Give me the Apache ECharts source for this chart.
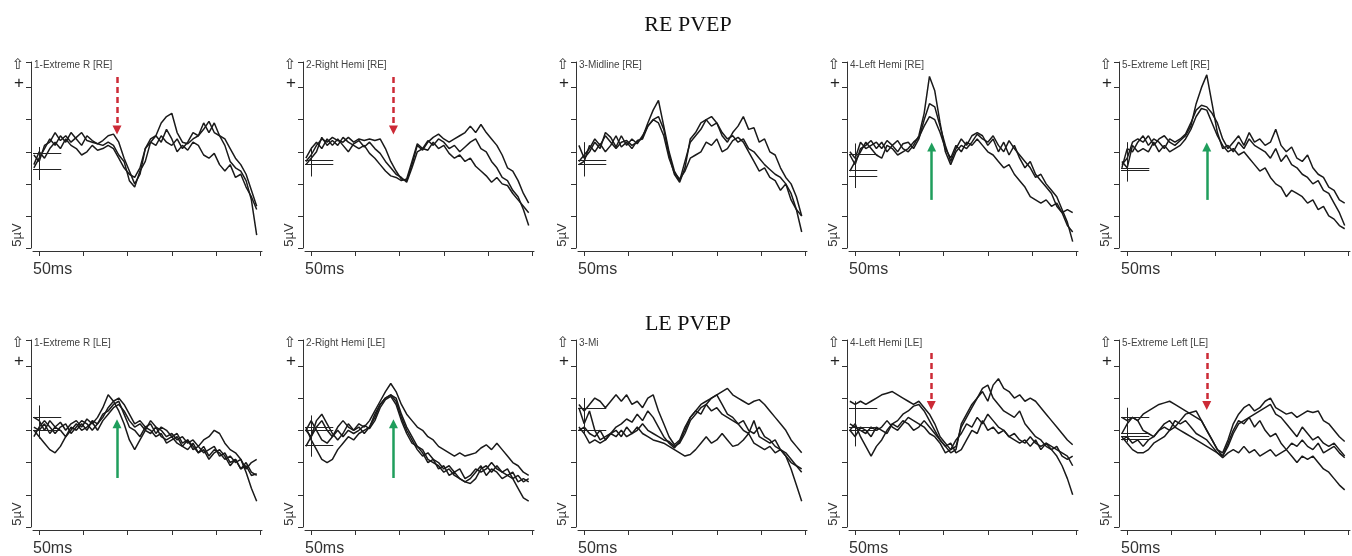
<!DOCTYPE html>
<html><head><meta charset="utf-8">
<script src="https://cdn.jsdelivr.net/npm/echarts@6/dist/echarts.min.js"></script>
<style>html,body{margin:0;padding:0;background:#fff}#c{width:1352px;height:556px}</style>
</head><body><div id="c"></div><script>
// ---- data (trace values in 5 µV divisions, times in ms) ----
const timesMs = [44,50,56,62,68,74,80,86,92,98,104,110,116,122,128,134,140,146,152,158,164,170,176,182,188,194,200,206,212,218,224,230,236,242,248,254,260,266,272,278,284,290,296];
const rowTitles = ['RE PVEP', 'LE PVEP'];
const panelTitles = ['1-Extreme R [RE]','2-Right Hemi [RE]','3-Midline [RE]','4-Left Hemi [RE]','5-Extreme Left [RE]',
                     '1-Extreme R [LE]','2-Right Hemi [LE]','3-Mi','4-Left Hemi [LE]','5-Extreme Left [LE]'];
const xTickValues = [50,100,150,200,250,300];
const yTickValues = [-3,-2,-1,0,1,2,2.8];
const xScaleLabel = '50ms';
const yScaleLabel = '5µV';

const RE1 = [
 [-0.1,-0.3,0.2,0.3,0.6,0.35,0.5,0.3,0.45,0.6,0.35,0.3,0.25,0.35,0.5,0.55,0.3,-0.2,-0.6,-1.0,-0.7,0.1,0.4,0.5,0.9,1.1,1.2,0.6,0.3,0.25,0.4,0.5,0.9,0.6,0.9,0.5,0.4,0.1,-0.2,-0.4,-0.7,-1.2,-1.7],
 [-0.5,-0.2,0.1,0.4,0.2,0.5,0.3,0.6,0.4,0.2,0.5,0.35,0.25,0.2,0.3,0.2,-0.1,-0.3,-0.9,-1.1,-0.6,-0.3,0.3,0.2,0.5,0.3,0.2,0.4,0.1,0.3,0.6,0.5,0.7,0.95,0.6,0.5,0.2,-0.3,-0.5,-0.6,-0.9,-1.5,-2.6],
 [-0.4,0.0,-0.2,0.1,0.3,0.1,0.4,0.2,0.1,-0.1,0.0,0.2,0.05,0.1,0.2,0.1,-0.2,-0.5,-0.7,-0.8,-0.5,0.1,0.3,0.5,0.3,0.7,0.4,0.0,0.2,0.05,0.3,0.2,-0.1,-0.2,-0.05,-0.4,-0.6,-0.4,-0.8,-0.7,-1.1,-1.4,-1.8]
];
const RE2 = [
 [-0.3,-0.1,0.2,0.4,0.3,0.45,0.35,0.3,0.45,0.3,0.4,0.35,0.4,0.35,0.4,0.1,-0.3,-0.6,-0.85,-0.9,-0.4,0.2,0.05,0.3,0.45,0.55,0.4,0.3,0.4,0.5,0.6,0.8,0.6,0.85,0.6,0.4,0.2,-0.1,-0.5,-0.6,-0.9,-1.3,-1.6],
 [-0.4,-0.2,0.0,0.45,0.2,0.35,0.2,0.45,0.3,0.2,0.1,0.2,-0.05,-0.2,-0.4,-0.6,-0.75,-0.8,-0.9,-0.85,-0.3,0.25,0.1,0.35,0.2,0.4,0.3,0.1,0.2,0.0,0.15,0.3,0.4,0.1,0.0,-0.3,-0.5,-0.8,-0.9,-1.2,-1.4,-1.8,-2.3],
 [-0.2,0.1,0.3,0.1,0.4,0.2,0.4,0.2,0.0,0.25,0.35,0.15,0.3,0.1,-0.05,-0.3,-0.5,-0.7,-0.8,-0.95,-0.5,0.0,0.1,0.05,0.3,0.1,0.2,-0.05,-0.2,-0.1,-0.3,-0.2,-0.45,-0.6,-0.75,-0.95,-0.8,-1.0,-1.05,-1.3,-1.5,-1.7,-1.9]
];
const RE3 = [
 [-0.3,-0.1,0.1,0.4,0.2,0.5,0.3,0.1,0.3,0.35,0.2,0.3,0.45,0.9,1.3,1.6,0.8,0.0,-0.6,-0.9,-0.3,0.3,0.5,0.7,1.0,1.1,0.9,0.6,0.4,0.5,0.3,0.4,0.1,0.0,-0.2,-0.4,-0.55,-0.7,-0.8,-1.0,-1.3,-1.8,-2.5],
 [0.2,-0.2,0.0,0.3,0.1,0.6,0.45,0.15,0.5,0.2,0.4,0.25,0.5,0.8,1.0,1.1,0.7,-0.1,-0.7,-0.95,-0.5,0.4,0.6,0.9,1.0,0.8,0.9,0.5,0.3,0.6,0.8,1.1,0.7,0.75,0.3,0.4,0.0,-0.1,-0.5,-0.8,-1.0,-1.4,-2.0],
 [-0.4,-0.3,0.2,0.0,0.25,0.0,0.2,0.5,0.15,0.3,0.1,0.35,0.4,0.8,1.0,0.9,0.5,-0.2,-0.65,-0.85,-0.6,-0.2,-0.1,0.0,0.3,0.2,0.4,0.0,0.1,0.35,0.45,0.3,0.0,-0.3,-0.6,-0.5,-0.8,-0.9,-1.2,-1.0,-1.5,-1.8,-2.0]
];
const RE4 = [
 [-0.1,-0.4,0.1,0.2,0.35,0.1,0.3,0.0,0.2,0.35,0.1,0.0,0.2,0.5,1.2,2.35,1.9,0.9,0.0,-0.4,0.0,0.2,0.1,0.3,0.55,0.4,0.3,0.5,0.2,0.0,0.35,0.1,-0.1,-0.3,-0.5,-0.8,-0.7,-1.0,-1.2,-1.4,-1.8,-2.2,-2.8],
 [0.0,-0.2,0.3,0.1,0.2,0.3,0.1,0.35,0.2,0.0,0.25,0.3,0.1,0.4,1.0,1.5,1.4,0.8,0.2,-0.3,0.1,0.4,0.2,0.5,0.6,0.5,0.2,0.4,0.0,0.3,-0.1,0.2,-0.2,-0.5,-0.3,-0.7,-0.9,-1.1,-1.3,-1.7,-1.9,-2.3,-2.5],
 [-0.6,-0.3,0.0,0.3,0.1,-0.1,-0.2,0.2,0.1,-0.1,0.0,0.1,0.3,0.45,0.8,1.1,1.0,0.6,0.1,-0.2,0.2,0.0,0.3,0.2,0.4,0.2,0.0,-0.1,-0.3,-0.5,-0.4,-0.7,-0.9,-1.1,-1.4,-1.5,-1.6,-1.5,-1.7,-1.6,-1.9,-1.8,-1.9]
];
const RE5 = [
 [-0.4,-0.2,0.3,0.4,0.3,0.5,0.2,0.4,0.5,0.3,0.2,0.35,0.5,0.8,1.5,2.0,2.4,1.5,0.6,0.1,0.2,0.0,0.3,0.1,0.4,0.2,0.1,0.0,-0.2,0.1,-0.3,-0.1,-0.4,-0.5,-0.7,-0.8,-1.0,-0.9,-1.2,-1.3,-1.6,-1.9,-2.3],
 [-0.5,0.1,0.0,0.3,0.5,0.2,0.4,0.3,0.1,0.4,0.3,0.4,0.55,0.9,1.3,1.45,1.4,1.2,0.9,0.4,0.1,0.3,0.5,0.2,0.6,0.3,0.4,0.2,0.3,0.7,0.2,0.0,0.15,-0.2,-0.3,-0.1,-0.5,-0.7,-0.8,-1.1,-1.2,-1.5,-1.6],
 [-0.3,-0.5,0.2,0.0,0.1,0.0,0.3,0.0,0.2,0.0,0.1,0.2,0.4,0.7,1.1,1.35,1.3,0.9,0.5,0.2,0.0,0.1,-0.1,0.0,-0.2,-0.4,-0.6,-0.5,-0.8,-1.0,-1.1,-1.4,-1.2,-1.3,-1.4,-1.6,-1.5,-1.8,-1.7,-2.0,-2.1,-2.3,-2.4]
];
const LE1 = [
 [0.4,0.3,0.0,0.3,0.1,0.25,0.0,0.2,0.3,0.1,0.35,0.2,0.4,0.7,1.1,0.9,0.6,0.2,-0.3,-0.6,-0.3,0.0,0.3,0.1,0.0,-0.2,-0.1,-0.3,-0.2,-0.4,-0.3,-0.5,-0.3,-0.2,0.0,-0.1,-0.4,-0.6,-0.7,-0.9,-1.3,-1.8,-2.2],
 [0.0,-0.2,-0.4,-0.6,-0.7,-0.5,-0.2,0.1,0.0,0.2,0.0,0.3,0.2,0.4,0.7,0.9,1.0,0.8,0.5,0.2,0.3,0.1,0.2,-0.1,0.1,0.0,-0.2,-0.1,-0.4,-0.3,-0.6,-0.5,-0.7,-0.6,-0.5,-0.8,-0.7,-1.0,-0.9,-1.2,-1.1,-1.4,-1.35],
 [0.1,0.0,0.2,-0.1,0.1,0.0,-0.2,0.0,0.2,0.0,0.1,0.25,0.0,0.3,0.5,0.7,0.8,0.6,0.3,0.1,0.2,0.0,-0.1,0.1,-0.2,-0.3,-0.2,-0.4,-0.5,-0.3,-0.5,-0.7,-0.5,-0.8,-0.6,-0.7,-0.9,-0.8,-1.0,-0.9,-1.2,-1.0,-0.9],
 [-0.2,0.1,0.3,0.1,-0.1,0.1,0.2,-0.1,0.1,0.3,0.2,0.0,0.2,0.5,0.6,0.8,0.9,0.5,0.1,0.0,-0.2,0.1,0.0,-0.2,-0.1,-0.4,-0.3,-0.2,-0.5,-0.6,-0.4,-0.7,-0.6,-0.9,-0.7,-0.6,-0.8,-1.1,-0.9,-1.2,-1.0,-1.3,-1.4]
];
const LE2 = [
 [0.0,-0.2,0.1,0.3,0.0,-0.2,0.1,0.3,0.1,0.0,0.2,0.1,0.3,0.6,0.9,1.2,1.45,1.2,0.8,0.5,0.3,0.1,0.0,-0.2,-0.3,-0.5,-0.6,-0.7,-0.8,-0.7,-0.8,-0.75,-0.7,-0.55,-0.45,-0.6,-0.4,-0.6,-0.8,-1.0,-1.1,-1.3,-1.4],
 [-0.5,-0.2,0.3,0.5,0.2,-0.1,-0.3,-0.1,0.2,0.0,0.1,-0.1,0.1,0.4,0.8,1.0,1.1,1.0,0.5,0.1,-0.2,-0.5,-0.6,-0.9,-1.0,-1.1,-1.3,-1.2,-1.4,-1.5,-1.6,-1.65,-1.5,-1.2,-1.1,-1.3,-1.1,-1.3,-1.4,-1.5,-1.8,-2.1,-2.2],
 [0.1,-0.3,-0.6,-0.9,-1.0,-0.9,-0.6,-0.4,-0.2,-0.3,-0.1,0.0,0.1,0.5,0.8,1.0,1.1,0.9,0.4,0.0,-0.3,-0.6,-0.8,-0.7,-0.9,-1.2,-1.1,-1.4,-1.3,-1.5,-1.6,-1.5,-1.3,-1.1,-1.4,-1.2,-1.3,-1.5,-1.4,-1.3,-1.6,-1.5,-1.6],
 [0.0,0.3,0.0,-0.3,-0.4,-0.2,0.0,-0.2,0.0,-0.1,0.0,0.15,0.05,0.3,0.7,0.95,1.05,0.8,0.3,-0.1,-0.4,-0.5,-0.7,-1.0,-0.9,-1.0,-1.2,-1.1,-1.3,-1.2,-1.5,-1.4,-1.2,-1.3,-1.2,-1.0,-1.2,-1.3,-1.2,-1.5,-1.4,-1.6,-1.5]
];
const LE3 = [
 [0.8,0.6,0.8,1.0,0.9,0.7,0.9,1.1,0.9,1.1,0.8,0.9,0.7,1.0,1.1,0.6,0.2,-0.2,-0.45,-0.3,0.1,0.4,0.6,0.8,0.9,1.0,1.1,1.2,1.3,1.1,1.0,0.9,0.8,0.9,0.95,0.8,0.6,0.4,0.2,0.0,-0.3,-0.5,-0.7],
 [0.7,0.2,0.6,0.0,-0.3,-0.2,-0.1,0.1,0.2,0.35,0.25,0.5,0.3,0.6,0.4,0.1,-0.2,-0.4,-0.55,-0.35,0.0,0.4,0.6,0.5,0.8,1.0,1.1,0.8,0.5,0.4,0.2,0.3,0.0,-0.1,0.1,-0.2,-0.3,-0.5,-0.6,-0.7,-0.9,-1.1,-1.3],
 [0.0,0.1,-0.1,-0.2,0.0,-0.3,-0.1,0.0,-0.2,0.1,-0.1,0.0,0.2,0.0,-0.1,-0.2,-0.3,-0.35,-0.5,-0.4,-0.1,0.3,0.5,0.7,0.8,0.6,0.7,0.5,0.4,0.3,0.2,0.0,-0.1,0.3,-0.2,-0.3,-0.4,-0.3,-0.6,-0.8,-1.2,-1.7,-2.2],
 [0.1,-0.1,-0.4,-0.3,-0.4,-0.3,-0.1,-0.2,0.0,-0.2,-0.1,0.1,-0.1,-0.2,-0.3,-0.35,-0.4,-0.5,-0.6,-0.7,-0.8,-0.75,-0.6,-0.4,-0.2,-0.4,-0.3,-0.1,-0.3,-0.5,-0.45,-0.3,-0.1,-0.4,-0.5,-0.6,-0.5,-0.7,-0.6,-0.8,-1.0,-1.1,-1.2]
];
const LE4 = [
 [0.9,0.8,0.9,0.8,0.9,1.0,1.1,1.15,1.2,1.1,1.0,0.9,0.8,0.9,0.7,0.5,0.2,-0.2,-0.4,-0.6,-0.5,0.1,0.4,0.7,1.0,1.2,0.9,1.4,1.6,1.3,1.2,1.0,1.1,0.9,1.0,0.9,0.7,0.5,0.3,0.1,-0.1,-0.3,-0.45],
 [0.0,0.2,-0.2,-0.5,-0.8,-0.5,-0.3,0.0,0.2,0.3,0.5,0.6,0.75,0.8,0.6,0.3,0.0,-0.3,-0.5,-0.7,-0.6,0.2,0.5,0.8,1.0,1.3,1.4,1.0,0.8,0.6,0.5,0.4,0.6,0.2,0.0,-0.2,-0.3,-0.5,-0.6,-0.8,-1.1,-1.5,-2.0],
 [0.2,0.1,0.0,-0.1,0.1,0.0,0.1,0.3,0.1,0.0,0.2,0.4,0.3,0.2,0.1,-0.1,-0.2,-0.4,-0.7,-0.6,-0.3,-0.1,0.2,0.1,0.4,0.2,0.5,0.3,0.1,0.0,-0.2,-0.1,-0.3,-0.4,-0.2,-0.4,-0.5,-0.4,-0.5,-0.6,-0.7,-0.8,-1.1],
 [0.0,-0.2,0.1,0.0,-0.2,0.1,0.0,-0.1,0.2,0.1,0.3,0.2,0.0,0.1,0.3,0.1,-0.1,-0.3,-0.5,-0.4,-0.7,-0.6,-0.3,0.0,-0.1,0.3,0.0,0.1,-0.1,0.0,-0.2,-0.3,-0.4,-0.3,-0.5,-0.3,-0.6,-0.4,-0.6,-0.5,-0.8,-0.9,-0.8]
];
const LE5 = [
 [0.4,0.3,0.4,0.3,0.5,0.6,0.7,0.8,0.85,0.9,0.8,0.7,0.6,0.5,0.4,0.3,0.0,-0.3,-0.6,-0.7,-0.3,0.2,0.5,0.7,0.8,0.6,0.7,0.9,1.0,0.7,0.6,0.5,0.55,0.4,0.5,0.6,0.55,0.6,0.3,0.2,0.0,-0.2,-0.35],
 [-0.1,0.2,0.4,0.3,0.0,-0.1,-0.2,0.0,0.2,0.3,0.1,0.3,0.5,0.55,0.6,0.3,0.0,-0.3,-0.6,-0.8,-0.5,-0.1,0.2,0.3,0.4,0.5,0.6,0.7,0.8,0.5,0.4,0.2,0.0,-0.2,0.1,-0.1,-0.3,-0.2,-0.4,-0.5,-0.4,-0.6,-0.8],
 [-0.3,-0.2,-0.4,-0.3,-0.5,-0.3,-0.2,0.0,0.1,0.0,0.3,0.2,0.3,0.1,-0.1,-0.2,-0.3,-0.5,-0.7,-0.8,-0.4,0.0,0.3,0.2,0.4,0.1,0.3,0.0,-0.2,-0.1,-0.4,-0.6,-0.8,-1.0,-0.8,-0.9,-0.8,-1.0,-1.2,-1.3,-1.5,-1.7,-1.85],
 [-0.2,-0.4,-0.6,-0.7,-0.7,-0.6,-0.4,-0.3,-0.2,0.0,0.1,0.0,-0.1,-0.2,-0.3,-0.4,-0.5,-0.6,-0.7,-0.85,-0.7,-0.6,-0.7,-0.5,-0.7,-0.6,-0.8,-0.7,-0.6,-0.8,-0.7,-0.6,-0.4,-0.5,-0.3,-0.5,-0.6,-0.4,-0.7,-0.6,-0.5,-0.7,-0.85]
];
const panels = [RE1, RE2, RE3, RE4, RE5, LE1, LE2, LE3, LE4, LE5];

// baseline cursor marks (levels in divisions)
const cursorLevels = [[-0.05,-0.54],[-0.26,-0.38],[-0.26,-0.38],[-0.07,-0.57,-0.75],[-0.52,-0.59],
                      [0.41,0],[0.1,0,-0.46],[0.69,0],[0.69,0.08,0],[0.4,-0.1,-0.2,-0.29]];
const cursorSpan = [[0.15,-0.88],[0.15,-0.77],[0.3,-0.77],[0.26,-1.13],[0.3,-0.93],
                    [0.77,-0.26],[0.46,-0.82],[1.0,-0.1],[0.9,-0.5],[0.7,-0.36]];
const cursorFromMs = 43, cursorToMs = 75, cursorAtMs = 50;

// annotation arrows
const arrowPanel = [0, 1, 3, 4, 5, 6, 8, 9];
const arrowMs    = [138, 143, 136.5, 140, 138, 143, 136, 140];
const arrowFrom  = [2.33, 2.33, -1.5, -1.5, -1.48, -1.48, 2.4, 2.4];
const arrowTo    = [0.68, 0.68, 0.15, 0.15, 0.2, 0.2, 0.77, 0.77];
const arrowKind  = ['absent','absent','present','present','present','present','absent','absent'];

// ---- layout ----
const colLeft = [33, 305, 578, 849, 1121];
const gridW = 229;
const rowTop = [62, 340];
const rowH = [186, 187];
const axisColor = '#333';
const traceColor = '#1a1a1a';
const redColor = '#cc2a36';
const greenColor = '#1f9e5c';

const grids = [], xAxes = [], yAxes = [], series = [], graphics = [];

panels.forEach((traces, p) => {
  const r = Math.floor(p / 5), c = p % 5;
  grids.push({left: colLeft[c], top: rowTop[r], width: gridW, height: rowH[r]});
  xAxes.push({gridIndex: p, type: 'value', min: 43, max: 302, offset: 3,
    axisLine: {show: true, onZero: false, lineStyle: {color: axisColor, width: 1}},
    axisTick: {show: true, customValues: xTickValues, length: 5, lineStyle: {color: axisColor}},
    axisLabel: {show: false}, splitLine: {show: false}});
  yAxes.push({gridIndex: p, type: 'value', min: -3, max: 2.8, offset: 2,
    axisLine: {show: true, onZero: false, lineStyle: {color: axisColor, width: 1}},
    axisTick: {show: true, customValues: yTickValues, length: 5, lineStyle: {color: axisColor}},
    axisLabel: {show: false}, splitLine: {show: false}});

  traces.forEach((tr, k) => {
    const s = {type: 'line', xAxisIndex: p, yAxisIndex: p, symbol: 'none', showSymbol: false,
      silent: true, animation: false, z: 3,
      lineStyle: {color: traceColor, width: 1.5},
      data: timesMs.map((t, i) => [t, tr[i]])};
    if (k === 0) {
      const md = cursorLevels[p].map(v => [{coord: [cursorFromMs, v]}, {coord: [cursorToMs, v]}]);
      md.push([{coord: [cursorAtMs, cursorSpan[p][0]]}, {coord: [cursorAtMs, cursorSpan[p][1]]}]);
      s.markLine = {silent: true, animation: false, symbol: 'none', label: {show: false},
        emphasis: {disabled: true},
        lineStyle: {color: '#222', width: 1, type: 'solid'}, data: md};
    }
    series.push(s);
  });

  const ad = [];
  let col = redColor;
  arrowPanel.forEach((ap, j) => {
    if (ap !== p) return;
    const red = arrowKind[j] === 'absent';
    col = red ? redColor : greenColor;
    ad.push([
      {coord: [arrowMs[j], arrowFrom[j]], symbol: 'none',
       lineStyle: {color: col, width: 2.5, type: red ? [6, 4] : 'solid'}},
      {coord: [arrowMs[j], arrowTo[j]], symbol: 'triangle', symbolSize: [9, 9]}
    ]);
  });
  if (ad.length) {
    series.push({type: 'line', xAxisIndex: p, yAxisIndex: p, data: [], silent: true, animation: false, z: 5,
      markLine: {silent: true, animation: false, label: {show: false}, emphasis: {disabled: true},
        symbol: ['none', 'triangle'], data: ad, itemStyle: {color: col}}});
  }

  const ax = colLeft[c] - 2, top = rowTop[r], bottom = rowTop[r] + rowH[r];
  graphics.push({type: 'text', x: ax + 3, y: top + 3, style: {text: panelTitles[p], fill: '#444', font: '10px "Liberation Sans", Arial', textAlign: 'left', textVerticalAlign: 'middle', verticalAlign: 'middle'}});
  graphics.push({type: 'text', x: ax - 13, y: top + 3, style: {text: '⇧', fill: '#333', font: '15px "DejaVu Sans"', textAlign: 'center', textVerticalAlign: 'middle', verticalAlign: 'middle'}});
  graphics.push({type: 'text', x: ax - 12, y: top + 21, style: {text: '+', fill: '#222', font: '17px "Liberation Sans", Arial', textAlign: 'center', textVerticalAlign: 'middle', verticalAlign: 'middle'}});
  graphics.push({type: 'text', x: ax - 14, y: bottom - 13, rotation: Math.PI / 2, style: {text: yScaleLabel, fill: '#333', font: '13px "Liberation Sans", Arial', textAlign: 'center', textVerticalAlign: 'middle', verticalAlign: 'middle'}});
  graphics.push({type: 'text', x: ax + 2, y: bottom + 22, style: {text: xScaleLabel, fill: '#333', font: '16px "Liberation Sans", Arial', textAlign: 'left', textVerticalAlign: 'middle', verticalAlign: 'middle'}});
});

rowTitles.forEach((t, r) => {
  graphics.push({type: 'text', x: 688, y: r === 0 ? 25 : 324, z: 10,
    style: {text: t, fill: '#111', font: '22px "Liberation Serif", "DejaVu Serif", serif', textAlign: 'center', textVerticalAlign: 'middle', verticalAlign: 'middle'}});
});

const chart = echarts.init(document.getElementById('c'), null, {renderer: 'canvas'});
chart.setOption({
  backgroundColor: '#fff',
  animation: false,
  grid: grids, xAxis: xAxes, yAxis: yAxes, series: series,
  graphic: graphics
});
</script></body></html>
